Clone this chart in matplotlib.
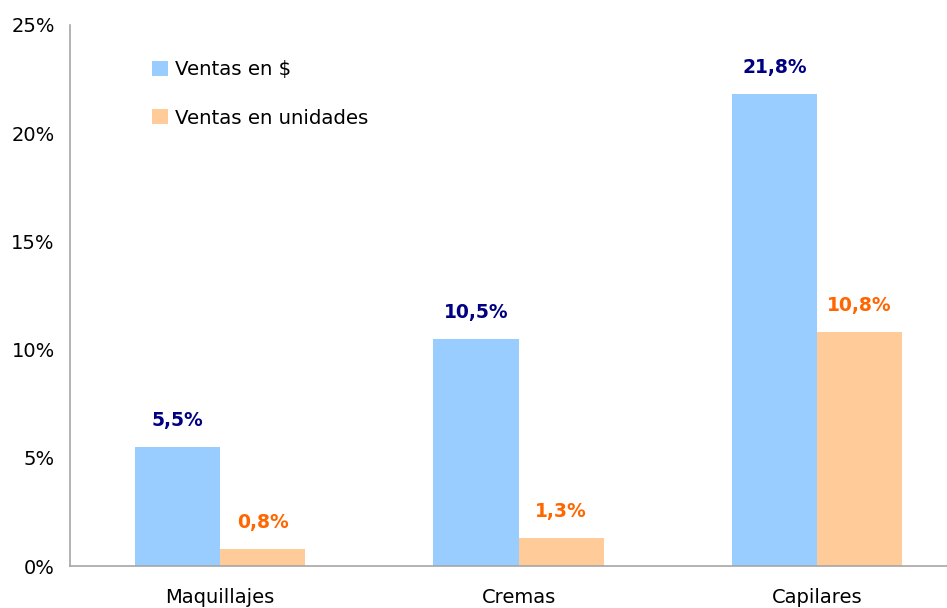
import numpy as np
import matplotlib.pyplot as plt

categorias = ['Maquillajes', 'Cremas', 'Capilares']
ventas_pesos = [5.5, 10.5, 21.8]
ventas_unidades = [0.8, 1.3, 10.8]
series = ['Ventas en $', 'Ventas en unidades']
yticks = [0, 5, 10, 15, 20, 25]

c_azul = '#99ccff'
c_naranja = '#ffcc99'
c_txt_azul = '#000080'
c_txt_naranja = '#ff6600'

fig = plt.figure(figsize=(9.47, 6.08), dpi=100)
ax = fig.add_axes([70/947, 1-566/608, 1-70/947, (566-25)/608])

x = np.arange(len(categorias))
w = 0.285
b1 = ax.bar(x - w/2, ventas_pesos, w, color=c_azul, label=series[0])
b2 = ax.bar(x + w/2, ventas_unidades, w, color=c_naranja, label=series[1])

for rect, v in zip(b1, ventas_pesos):
    ax.annotate(f'{v:.1f}%'.replace('.', ','), (rect.get_x() + rect.get_width()/2, v),
                xytext=(0, 19), textcoords='offset points', ha='center', va='center',
                fontsize=13.5, fontweight='bold', color=c_txt_azul)
for rect, v in zip(b2, ventas_unidades):
    ax.annotate(f'{v:.1f}%'.replace('.', ','), (rect.get_x() + rect.get_width()/2, v),
                xytext=(0, 19), textcoords='offset points', ha='center', va='center',
                fontsize=13.5, fontweight='bold', color=c_txt_naranja)

ax.set_ylim(0, 25)
ax.set_xlim(-0.5025, 2.435)
ax.set_yticks(yticks)
ax.set_yticklabels([f'{t}%' for t in yticks])
ax.set_xticks(x)
ax.set_xticklabels(categorias)
ax.tick_params(axis='both', length=0, labelsize=14)
ax.tick_params(axis='x', pad=16)
ax.tick_params(axis='y', pad=11)

for s in ['top', 'right']:
    ax.spines[s].set_visible(False)
for s in ['left', 'bottom']:
    ax.spines[s].set_color('#a6a6a6')
    ax.spines[s].set_linewidth(1.2)

ax.legend(loc='upper left', bbox_to_anchor=(0.094, 0.935), frameon=False,
          fontsize=14.2, handlelength=0.8, handleheight=0.8, handletextpad=0.35,
          labelspacing=1.5, borderpad=0, borderaxespad=0)

fig.savefig('out.png', dpi=100)
